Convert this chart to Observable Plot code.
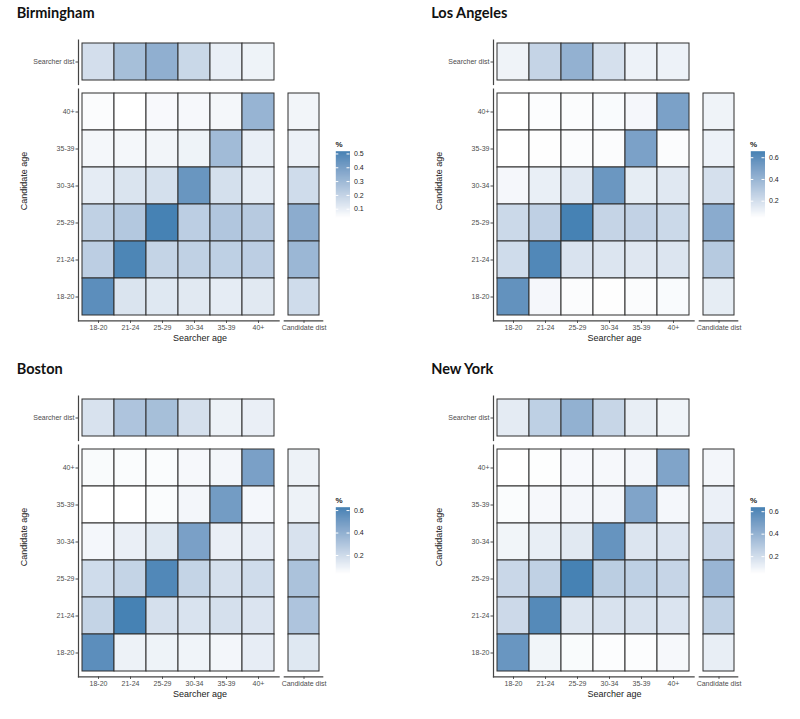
<!DOCTYPE html>
<html>
<head>
<meta charset="utf-8">
<script src="https://cdn.jsdelivr.net/npm/d3@7"></script>
<script src="https://cdn.jsdelivr.net/npm/@observablehq/plot@0.6"></script>
<style>
  html, body { margin: 0; padding: 0; background: #fff; }
  #root { position: relative; width: 800px; height: 719px; overflow: hidden; font-family: "Liberation Sans", Arial, sans-serif; }
  #root svg { position: absolute; }
  .title { position: absolute; font-family: Lato, "Open Sans", sans-serif; font-weight: 700; font-size: 14.5px; line-height: 14.5px; color: #111; white-space: nowrap; }
  .axtitle { position: absolute; font-size: 9px; color: #222; white-space: nowrap; transform: translate(-50%, -50%); }
  .axtitle.rot { transform: translate(-50%, -50%) rotate(-90deg); }
  .legtitle { position: absolute; font-size: 8px; font-weight: 700; color: #222; transform: translateY(-50%); }
</style>
</head>
<body>
<div id="root"></div>
<script>
// ---------- data ----------
const searcherAges = ["18-20", "21-24", "25-29", "30-34", "35-39", "40+"];
const candidateAges = ["40+", "35-39", "30-34", "25-29", "21-24", "18-20"]; // top to bottom
const cityNames = ["Birmingham", "Los Angeles", "Boston", "New York"];
const searcherDistLabel = "Searcher dist";
const candidateDistLabel = "Candidate dist";

// rows: candidate age (40+ ... 18-20), columns: searcher age (18-20 ... 40+)
const birminghamCells = [
  [0.05, 0.04, 0.06, 0.065, 0.07, 0.32],
  [0.07, 0.07, 0.075, 0.085, 0.295, 0.10],
  [0.11, 0.14, 0.155, 0.44, 0.155, 0.11],
  [0.21, 0.245, 0.52, 0.22, 0.25, 0.235],
  [0.22, 0.505, 0.20, 0.21, 0.215, 0.22],
  [0.47, 0.14, 0.125, 0.12, 0.11, 0.12]
];
const birminghamSearcherDist = [0.16, 0.28, 0.34, 0.185, 0.10, 0.085];
const birminghamCandidateDist = [0.075, 0.09, 0.17, 0.35, 0.31, 0.17];
const birminghamLegendTicks = [0.1, 0.2, 0.3, 0.4, 0.5];

const losAngelesCells = [
  [0.05, 0.06, 0.065, 0.07, 0.085, 0.50],
  [0.05, 0.055, 0.065, 0.065, 0.50, 0.065],
  [0.085, 0.125, 0.155, 0.55, 0.135, 0.155],
  [0.23, 0.27, 0.66, 0.25, 0.26, 0.23],
  [0.215, 0.63, 0.18, 0.17, 0.16, 0.17],
  [0.575, 0.085, 0.065, 0.055, 0.065, 0.07]
];
const losAngelesSearcherDist = [0.105, 0.25, 0.42, 0.195, 0.11, 0.11];
const losAngelesCandidateDist = [0.105, 0.11, 0.195, 0.45, 0.30, 0.135];
const losAngelesLegendTicks = [0.2, 0.4, 0.6];

const bostonCells = [
  [0.06, 0.055, 0.055, 0.07, 0.08, 0.48],
  [0.04, 0.04, 0.055, 0.08, 0.50, 0.075],
  [0.075, 0.11, 0.145, 0.48, 0.11, 0.12],
  [0.20, 0.235, 0.60, 0.235, 0.18, 0.20],
  [0.235, 0.63, 0.18, 0.165, 0.18, 0.16],
  [0.57, 0.10, 0.095, 0.09, 0.08, 0.12]
];
const bostonSearcherDist = [0.17, 0.31, 0.335, 0.18, 0.10, 0.11];
const bostonCandidateDist = [0.10, 0.10, 0.17, 0.32, 0.31, 0.145];
const bostonLegendTicks = [0.2, 0.4, 0.6];

const newYorkCells = [
  [0.05, 0.055, 0.075, 0.08, 0.09, 0.47],
  [0.065, 0.08, 0.09, 0.09, 0.47, 0.085],
  [0.095, 0.125, 0.15, 0.55, 0.165, 0.17],
  [0.23, 0.26, 0.64, 0.275, 0.265, 0.24],
  [0.22, 0.60, 0.165, 0.18, 0.18, 0.17],
  [0.54, 0.095, 0.07, 0.06, 0.06, 0.08]
];
const newYorkSearcherDist = [0.14, 0.265, 0.41, 0.235, 0.125, 0.10];
const newYorkCandidateDist = [0.09, 0.115, 0.22, 0.39, 0.26, 0.125];
const newYorkLegendTicks = [0.2, 0.4, 0.6];

// ---------- layout ----------
const panels = [
  {name: cityNames[0], cells: birminghamCells, sd: birminghamSearcherDist, cd: birminghamCandidateDist, ticks: birminghamLegendTicks, ox: 0, oy: 0},
  {name: cityNames[1], cells: losAngelesCells, sd: losAngelesSearcherDist, cd: losAngelesCandidateDist, ticks: losAngelesLegendTicks, ox: 414.5, oy: 0},
  {name: cityNames[2], cells: bostonCells, sd: bostonSearcherDist, cd: bostonCandidateDist, ticks: bostonLegendTicks, ox: 0, oy: 356},
  {name: cityNames[3], cells: newYorkCells, sd: newYorkSearcherDist, cd: newYorkCandidateDist, ticks: newYorkLegendTicks, ox: 414.5, oy: 356}
];

const root = document.getElementById("root");
const svgStyle = "background:none;overflow:visible;max-width:none;font-family:'Liberation Sans',Arial,sans-serif;";
const tileStroke = "#2f2f2f";
const lineStroke = "#444";
const tickColor = "#4d4d4d";

function place(el, x, y) {
  el.style.left = x + "px";
  el.style.top = y + "px";
  root.appendChild(el);
}
function addText(cls, text, x, y) {
  const d = document.createElement("div");
  d.className = cls;
  d.textContent = text;
  place(d, x, y);
}

for (const p of panels) {
  const cellData = p.cells.flatMap((row, i) => row.map((v, j) => ({searcher: searcherAges[j], candidate: candidateAges[i], value: v})));
  const sdData = p.sd.map((v, j) => ({age: searcherAges[j], dist: searcherDistLabel, value: v}));
  const cdData = p.cd.map((v, i) => ({age: candidateAges[i], dist: candidateDistLabel, value: v}));
  const [lo, hi] = d3.extent(cellData, d => d.value);
  const color = {type: "linear", domain: [lo, hi], range: ["white", "steelblue"], interpolate: d3.interpolateLab};
  const band = (domain) => ({type: "band", domain, paddingInner: 0, paddingOuter: 0.1});
  const axisOpts = {tickSize: 2.5, tickPadding: 1.5, fontSize: 7, color: tickColor, label: null};

  // top strip: searcher distribution
  const top = Plot.plot({
    width: 290, height: 90,
    marginLeft: 78, marginRight: 11.4, marginTop: 39.6, marginBottom: 6,
    style: svgStyle,
    x: {...band(searcherAges), axis: null},
    y: band([searcherDistLabel]),
    color,
    marks: [
      Plot.cell(sdData, {x: "age", y: "dist", fill: "value", stroke: tileStroke, strokeWidth: 1, inset: 0}),
      Plot.axisY(axisOpts),
      Plot.frame({anchor: "left", stroke: lineStroke, strokeWidth: 1.2})
    ]
  });
  place(top, p.ox, p.oy);

  // main heatmap
  const main = Plot.plot({
    width: 290, height: 345,
    marginLeft: 78, marginRight: 11.4, marginTop: 88.6, marginBottom: 24.6,
    style: svgStyle,
    x: band(searcherAges),
    y: band(candidateAges),
    color,
    marks: [
      Plot.cell(cellData, {x: "searcher", y: "candidate", fill: "value", stroke: tileStroke, strokeWidth: 1, inset: 0}),
      Plot.axisX(axisOpts),
      Plot.axisY(axisOpts),
      Plot.frame({anchor: "left", stroke: lineStroke, strokeWidth: 1.2}),
      Plot.frame({anchor: "bottom", stroke: lineStroke, strokeWidth: 1.2})
    ]
  });
  place(main, p.ox, p.oy);

  // right column: candidate distribution
  const right = Plot.plot({
    width: 335, height: 345,
    marginLeft: 283.8, marginRight: 12.8, marginTop: 88.6, marginBottom: 24.6,
    style: svgStyle,
    x: band([candidateDistLabel]),
    y: {...band(candidateAges), axis: null},
    color,
    marks: [
      Plot.cell(cdData, {x: "dist", y: "age", fill: "value", stroke: tileStroke, strokeWidth: 1, inset: 0}),
      Plot.axisX(axisOpts),
      Plot.frame({anchor: "bottom", stroke: lineStroke, strokeWidth: 1.2})
    ]
  });
  place(right, p.ox, p.oy);

  // colour bar legend
  const legend = Plot.plot({
    width: 60, height: 110,
    marginLeft: 15.3, marginRight: 30.5, marginTop: 30.7, marginBottom: 13,
    style: svgStyle,
    x: {domain: [0, 1], axis: null},
    y: {domain: [lo, hi]},
    color,
    marks: [
      Plot.raster({x1: 0, x2: 1, y1: lo, y2: hi, width: 1, height: 120, fill: (x, y) => y}),
      Plot.tickY(p.ticks, {y: d => d, stroke: "white", insetRight: 11.2}),
      Plot.tickY(p.ticks, {y: d => d, stroke: "white", insetLeft: 11.2}),
      Plot.axisY({anchor: "right", ticks: p.ticks, tickSize: 0, tickPadding: 4, fontSize: 7, color: "#222", label: null, tickFormat: d3.format(".1f")})
    ]
  });
  place(legend, p.ox + 320, p.oy + 120);

  // texts
  addText("title", p.name, p.ox + 16.7, p.oy + 6.2);
  addText("axtitle", "Searcher age", p.ox + 200, p.oy + 338);
  addText("axtitle rot", "Candidate age", p.ox + 24, p.oy + 181);
  addText("legtitle", "%", p.ox + 335.5, p.oy + 143.5);
}
</script>
</body>
</html>
